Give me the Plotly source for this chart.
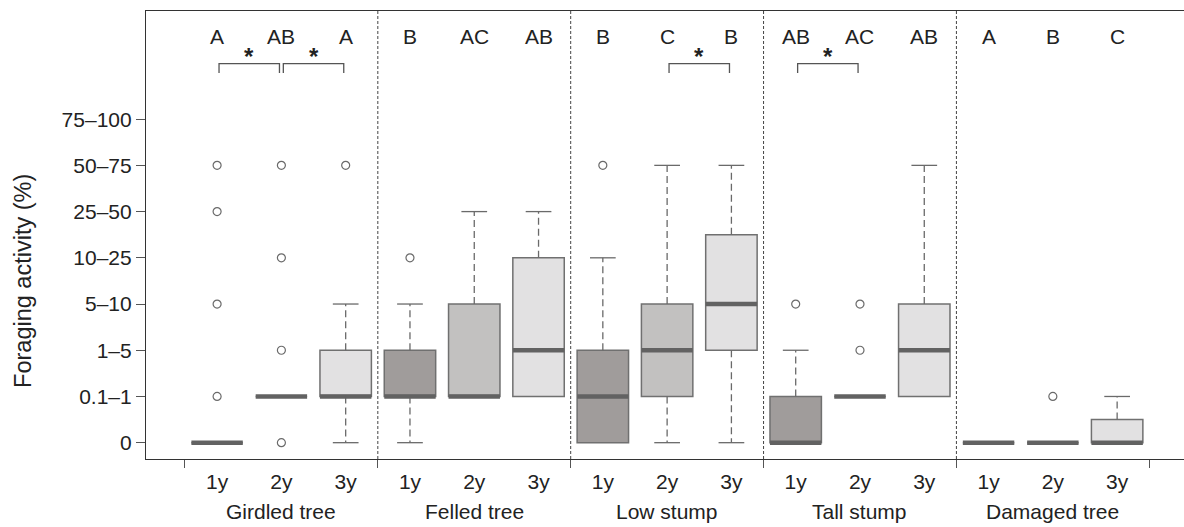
import plotly.graph_objects as go

# ---- data ----
groups = ["Girdled tree", "Felled tree", "Low stump", "Tall stump", "Damaged tree"]
years = ["1y", "2y", "3y"]
y_levels = ["0", "0.1–1", "1–5", "5–10", "10–25", "25–50", "50–75", "75–100"]
y_title = "Foraging activity (%)"

q1     = [0, 1, 1,   1, 1, 1,   0, 1, 2,     0, 1, 1,   0, 0, 0]
median = [0, 1, 1,   1, 1, 2,   1, 2, 3,     0, 1, 2,   0, 0, 0]
q3     = [0, 1, 2,   2, 3, 4,   2, 3, 4.5,   1, 1, 3,   0, 0, 0.5]
lower  = [0, 1, 0,   0, 1, 1,   0, 0, 0,     0, 1, 1,   0, 0, 0]
upper  = [0, 1, 3,   3, 5, 5,   4, 6, 6,     2, 1, 6,   0, 0, 1]
outliers = [[1, 3, 5, 6], [0, 2, 4, 6], [6],
            [4], [], [],
            [6], [], [],
            [3], [2, 3], [],
            [], [1], []]
letters = ["A", "AB", "A", "B", "AC", "AB", "B", "C", "B", "AB", "AC", "AB", "A", "B", "C"]
bracket_pairs = [(1, 2), (2, 3), (8, 9), (10, 11)]

# ---- style ----
FONT = "Liberation Sans, Arial, sans-serif"
fills = ["#a09c9b", "#c2c1c0", "#e2e1e2"]
OUTLINE = "#707070"
MED = "#626262"
WH = "#6a6a6a"
BOXW = 0.8
CAPW = 0.2
LETTER_Y = 8.79
BR_LOW, BR_HIGH, STAR_Y = 8.0, 8.2, 8.36

n = len(q1)
pos = list(range(1, n + 1))

fig = go.Figure()

# whiskers (dashed) and caps
wx, wy, cx, cy = [], [], [], []
for i in range(n):
    p = pos[i]
    if upper[i] > q3[i]:
        wx += [p, p, None]; wy += [q3[i], upper[i], None]
        cx += [p - CAPW, p + CAPW, None]; cy += [upper[i], upper[i], None]
    if lower[i] < q1[i]:
        wx += [p, p, None]; wy += [q1[i], lower[i], None]
        cx += [p - CAPW, p + CAPW, None]; cy += [lower[i], lower[i], None]
fig.add_trace(go.Scatter(x=wx, y=wy, mode="lines",
                         line=dict(color=WH, width=1.3, dash="7px,4px"),
                         hoverinfo="skip", showlegend=False))
fig.add_trace(go.Scatter(x=cx, y=cy, mode="lines",
                         line=dict(color=WH, width=1.3),
                         hoverinfo="skip", showlegend=False))

# boxes per year
for k in range(3):
    idx = [i for i in range(n) if i % 3 == k]
    fig.add_trace(go.Box(
        x=[pos[i] for i in idx],
        q1=[q1[i] for i in idx], median=[median[i] for i in idx],
        q3=[q3[i] for i in idx],
        lowerfence=[q1[i] for i in idx], upperfence=[q3[i] for i in idx],
        width=BOXW, fillcolor=fills[k],
        line=dict(color=OUTLINE, width=1.5),
        whiskerwidth=0, hoverinfo="skip", showlegend=False,
    ))

# thick medians
mx, my = [], []
for i in range(n):
    mx += [pos[i] - BOXW / 2, pos[i] + BOXW / 2, None]
    my += [median[i], median[i], None]
fig.add_trace(go.Scatter(x=mx, y=my, mode="lines",
                         line=dict(color=MED, width=4.5),
                         hoverinfo="skip", showlegend=False))

# outliers
ox, oy = [], []
for i in range(n):
    for v in outliers[i]:
        ox.append(pos[i]); oy.append(v)
fig.add_trace(go.Scatter(x=ox, y=oy, mode="markers",
                         marker=dict(symbol="circle-open", size=8,
                                     color="#6a6a6a", line=dict(width=1.2)),
                         hoverinfo="skip", showlegend=False))

# brackets
bx, by = [], []
for a, b in bracket_pairs:
    xa, xb = a + 0.03, b - 0.03
    bx += [xa, xa, xb, xb, None]
    by += [BR_LOW, BR_HIGH, BR_HIGH, BR_LOW, None]
fig.add_trace(go.Scatter(x=bx, y=by, mode="lines",
                         line=dict(color="#555555", width=1.3),
                         hoverinfo="skip", showlegend=False))
for a, b in bracket_pairs:
    fig.add_annotation(x=(a + b) / 2, y=STAR_Y, text="<b>*</b>", showarrow=False,
                       font=dict(family=FONT, size=24, color="#222"),
                       yanchor="middle")

# letters
for i in range(n):
    fig.add_annotation(x=pos[i], y=LETTER_Y, text=letters[i], showarrow=False,
                       font=dict(family=FONT, size=21, color="#222"),
                       yanchor="middle")

# group separators
bounds = [0.5 + 3 * j for j in range(len(groups) + 1)]
for bnd in bounds[1:-1]:
    fig.add_shape(type="line", x0=bnd, x1=bnd, y0=0, y1=1, xref="x", yref="paper",
                  line=dict(color="#444", width=1, dash="3px,2px"), layer="below")

# group labels
for j, g in enumerate(groups):
    fig.add_annotation(x=3 * j + 2, y=-0.118, xref="x", yref="paper", text=g,
                       showarrow=False, yanchor="middle",
                       font=dict(family=FONT, size=21, color="#222"))

# y-axis title (centred on the tick range, as in the reference)
fig.add_annotation(x=-0.1185, xref="paper", y=(len(y_levels) - 1) / 2, yref="y",
                   text=y_title, textangle=-90, showarrow=False,
                   xanchor="center", yanchor="middle",
                   font=dict(family=FONT, size=23.5, color="#222"))

fig.update_layout(
    width=1184, height=527,
    margin=dict(l=146, r=0, t=11, b=68),
    paper_bgcolor="white", plot_bgcolor="white",
    font=dict(family=FONT, size=21, color="#222"),
    xaxis=dict(
        range=[-0.106, 16.04],
        tickmode="array", tickvals=pos, ticktext=[years[i % 3] for i in range(n)],
        ticks="outside", ticklen=4, tickcolor="rgba(0,0,0,0)",
        showline=True, linecolor="#333", linewidth=1.2, mirror=True,
        showgrid=False, zeroline=False,
        minor=dict(tickmode="array", tickvals=bounds, ticks="outside",
                   ticklen=8, tickcolor="#555", tickwidth=1.2, showgrid=False),
        tickfont=dict(family=FONT, size=21, color="#222"),
    ),
    yaxis=dict(
        range=[-0.353, 9.34],
        tickmode="array", tickvals=list(range(len(y_levels))), ticktext=y_levels,
        ticks="outside", ticklen=9, tickcolor="#555", tickwidth=1.2,
        showline=True, linecolor="#333", linewidth=1.2,
        showgrid=False, zeroline=False,
        tickfont=dict(family=FONT, size=21, color="#222"),
    ),
)

fig.write_html("out.html", config={"displayModeBar": False},
               post_script="document.body.style.margin='0px';document.body.style.overflow='hidden';")
